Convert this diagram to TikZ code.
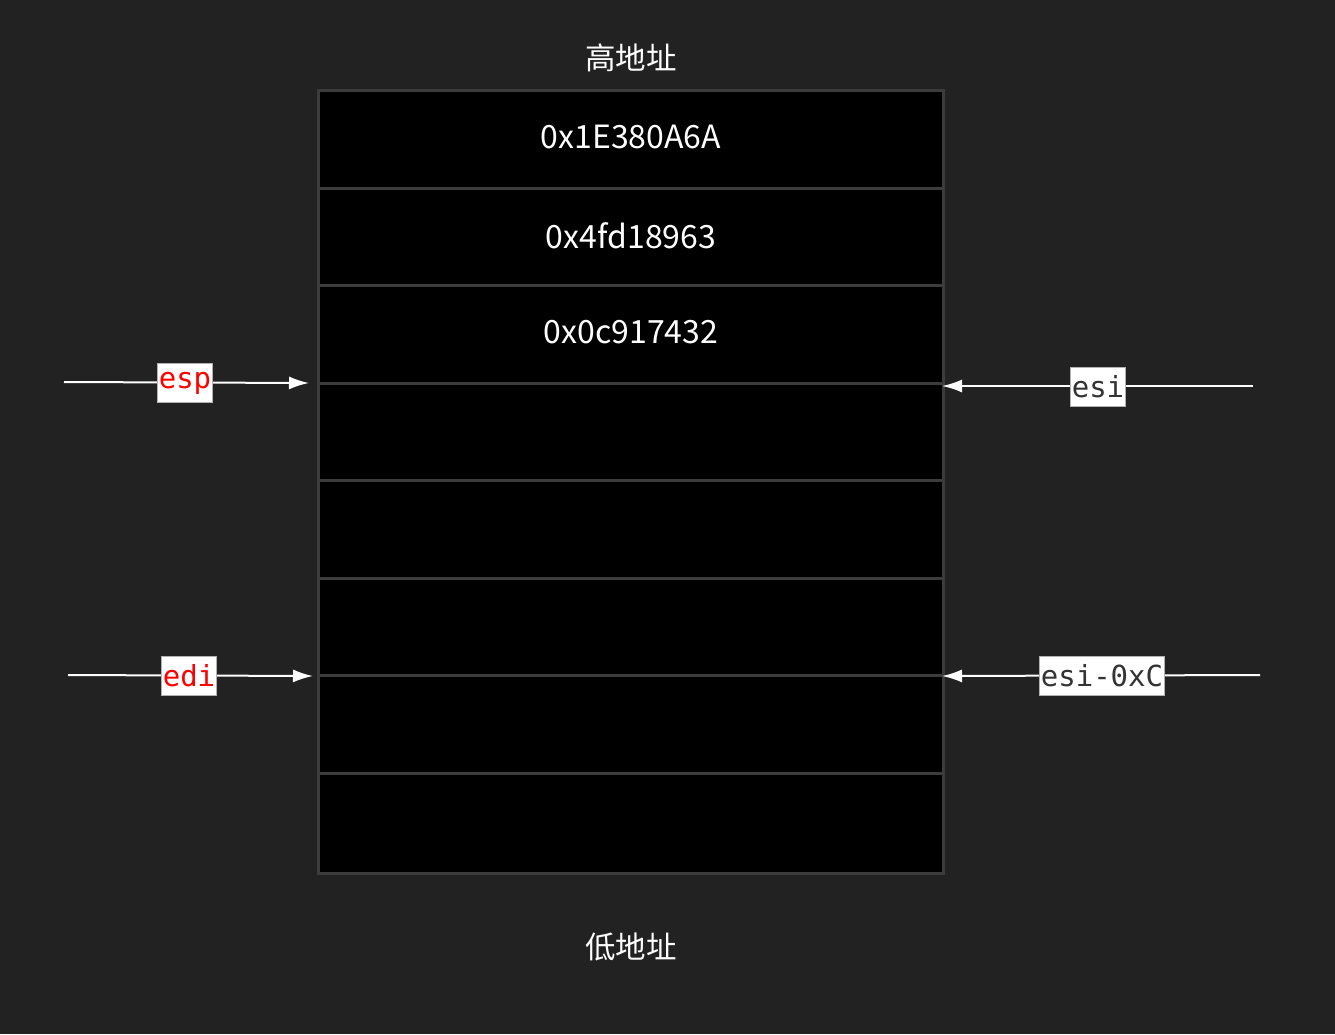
\documentclass[tikz,border=0pt]{standalone}
\usepackage{fontspec}
\newfontfamily\cjk{Noto Sans CJK SC}
\newfontfamily\monof{DejaVu Sans Mono}
\usetikzlibrary{arrows.meta}
\definecolor{bg}{HTML}{222222}
\definecolor{cellborder}{HTML}{3C3C3C}
\begin{document}
\begin{tikzpicture}[x=1pt,y=-1pt,
  cell/.style={draw=cellborder, line width=3pt, fill=black},
  hexval/.style={text=white, font=\cjk\fontsize{32}{36}\selectfont},
  title/.style={text=white, font=\cjk\fontsize{30.5}{34}\selectfont},
  reglabel/.style={draw=gray!60, line width=0.8pt, fill=white, inner xsep=1.5pt, inner ysep=0pt, minimum height=39, font=\monof\fontsize{29}{32}\selectfont},
  ptr/.style={draw=white, line width=2pt, -{Latex[length=20pt,width=13pt]}}]
\useasboundingbox (0,0) rectangle (1335,1034);
\fill[bg] (0,0) rectangle (1335,1034);
% cells
\foreach \t/\b [count=\i] in {90/188,188/285,285/383,383/480,480/578,578/675,675/773,773/873}
  \draw[cell] (318,\t) rectangle (943,\b);
\node[title] (hi) at (631,58) {高地址};
\node[title] (lo) at (631,947) {低地址};
\node[hexval] (v1) at (631,137) {0x1E380A6A};
\node[hexval] (v2) at (631,236) {0x4fd18963};
\node[hexval] (v3) at (631,332) {0x0c917432};
% pointers
\coordinate (espS) at (64,382);  \coordinate (espE) at (309,383);
\coordinate (ediS) at (68,675);  \coordinate (ediE) at (313,676);
\coordinate (esiS) at (1253,386); \coordinate (esiE) at (942,386);
\coordinate (esicS) at (1260,675); \coordinate (esicE) at (942,676);
\draw[ptr] (espS) -- (espE);
\draw[ptr] (ediS) -- (ediE);
\draw[ptr] (esiS) -- (esiE);
\draw[ptr] (esicS) -- (esicE);
\node[reglabel, text=red] (esp) at (185,383) {esp};
\node[reglabel, text=red] (edi) at (189,676) {edi};
\node[reglabel, text=black!80] (esi) at (1098,387) {esi};
\node[reglabel, text=black!80] (esic) at (1102,676) {esi-0xC};
\end{tikzpicture}
\end{document}
